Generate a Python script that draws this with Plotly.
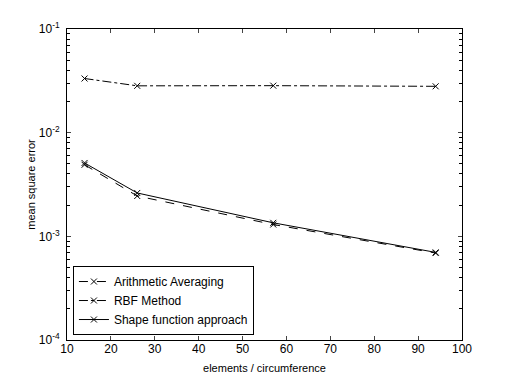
import plotly.graph_objects as go

x_vals = [14, 26, 57, 94]
arith = [0.0049, 0.00245, 0.00130, 0.00069]
rbf = [0.0333, 0.0283, 0.0284, 0.0280]
shape = [0.0051, 0.00262, 0.00135, 0.00070]

names = ["Arithmetic Averaging", "RBF Method", "Shape function approach"]
dashes = ["dash", "dashdot", "solid"]

x_ticks = [10, 20, 30, 40, 50, 60, 70, 80, 90, 100]
y_ticks = [1e-4, 1e-3, 1e-2, 1e-1]
y_ticktext = ["10<sup>-4</sup>", "10<sup>-3</sup>", "10<sup>-2</sup>", "10<sup>-1</sup>"]
y_minor = [m * 10.0 ** e for e in (-4, -3, -2) for m in range(2, 10)]

fig = go.Figure()
for ys, nm, ds in zip([arith, rbf, shape], names, dashes):
    fig.add_trace(go.Scatter(
        x=x_vals, y=ys, name=nm, mode="lines+markers",
        line=dict(color="black", width=1, dash=ds),
        marker=dict(symbol="x-thin", size=6, color="black",
                    line=dict(color="black", width=1)),
    ))
# invisible helper trace so the overlaid minor-tick axis is drawn
fig.add_trace(go.Scatter(x=x_vals, y=rbf, yaxis="y2", mode="markers",
                         marker=dict(opacity=0), showlegend=False,
                         hoverinfo="skip"))

fam = "Liberation Sans, Arial, sans-serif"
# page body has a default 8px margin; compensate so the plot area lands at 67..462 x 29..340
fig.update_layout(
    width=494, height=366,
    margin=dict(l=59, r=40, t=21, b=34),
    paper_bgcolor="white", plot_bgcolor="white",
    font=dict(family=fam, size=11, color="black"),
    showlegend=True,
    legend=dict(x=0.015, y=0.016, xanchor="left", yanchor="bottom",
                bordercolor="black", borderwidth=1, bgcolor="white",
                font=dict(size=12), tracegroupgap=0, itemwidth=30),
    yaxis2=dict(type="log", range=[-4, -1], overlaying="y", side="left",
                tickmode="array", tickvals=y_minor, ticks="inside", ticklen=3,
                tickcolor="black", showticklabels=False, showline=True,
                linecolor="black", linewidth=1, mirror="ticks",
                showgrid=False, zeroline=False, automargin=False),
)
fig.update_xaxes(
    range=[10, 100], tickvals=x_ticks, ticks="inside", ticklen=4,
    tickfont=dict(size=12), ticklabelstandoff=-2,
    showline=True, linecolor="black", linewidth=1, mirror="ticks",
    showgrid=False, zeroline=False, automargin=False,
    title=dict(text="elements / circumference", standoff=8, font=dict(size=11)),
)
fig.update_yaxes(
    selector=dict(overlaying=None),
    type="log", range=[-4, -1], tickmode="array", tickvals=y_ticks,
    ticktext=y_ticktext,
    ticks="inside", ticklen=4, tickfont=dict(size=12), ticklabelstandoff=4,
    showline=True, linecolor="black", linewidth=1, mirror="ticks",
    showgrid=False, zeroline=False, automargin=False,
    title=dict(text="mean square error", standoff=0, font=dict(size=11)),
)
fig.write_html("out.html")
